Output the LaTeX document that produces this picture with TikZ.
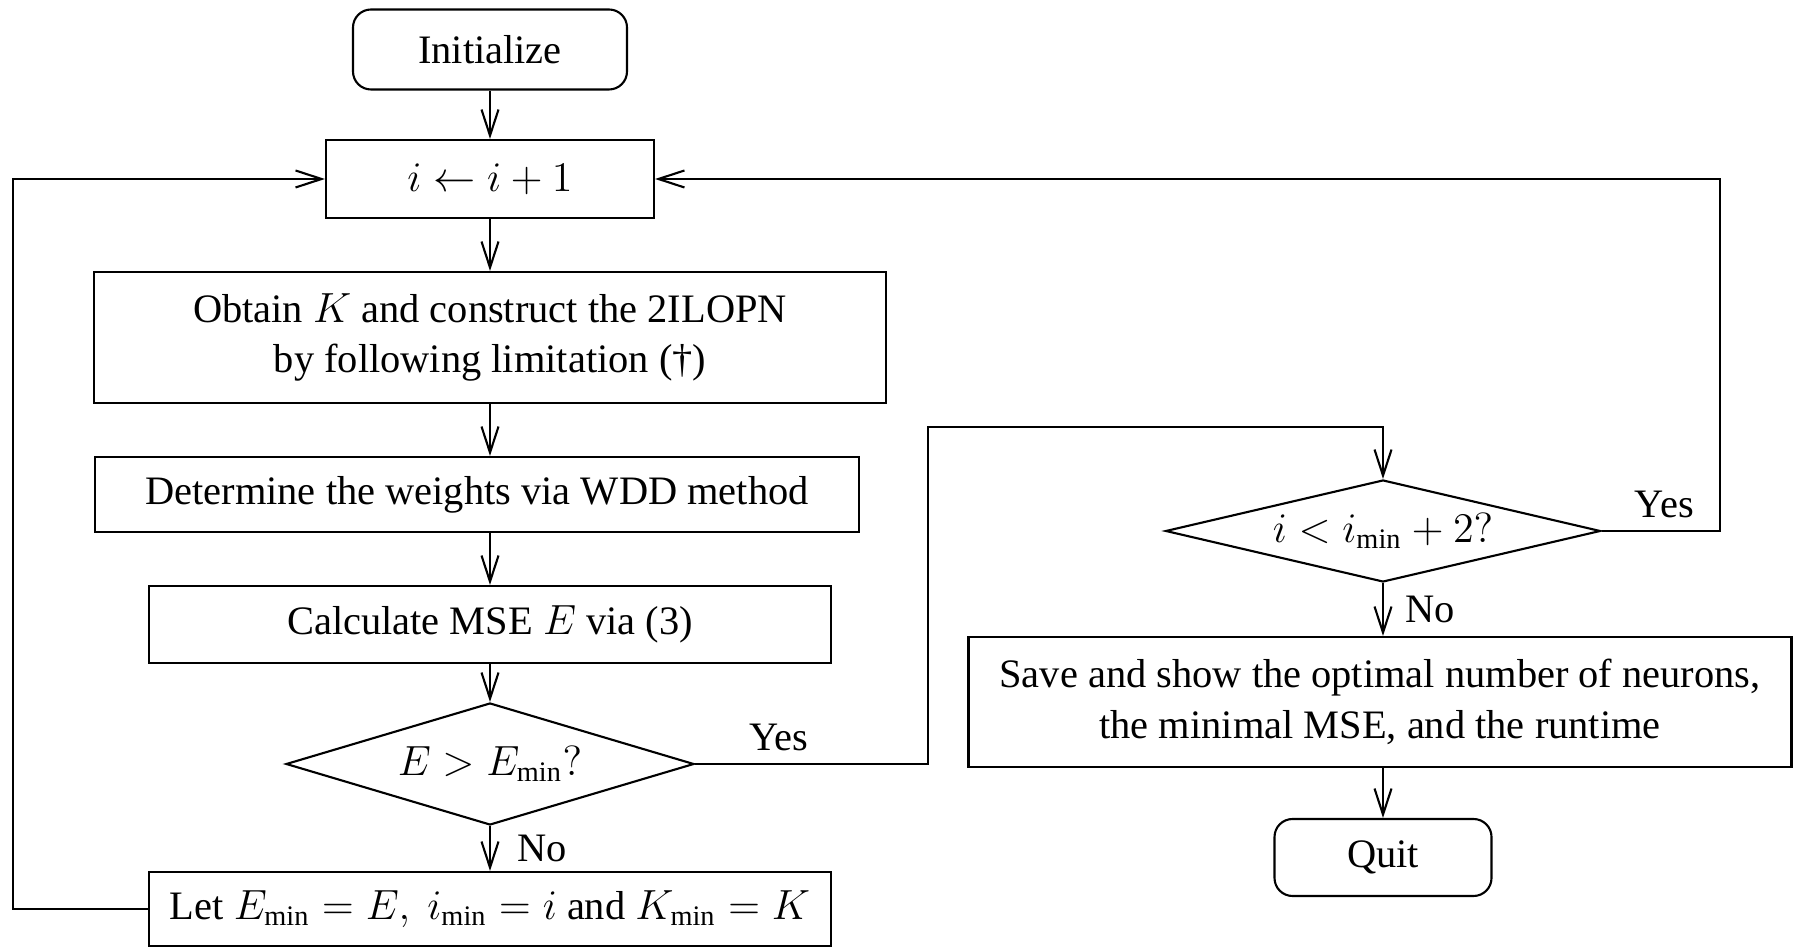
\documentclass[tikz,border=0pt]{standalone}
\usepackage{amsmath}
\usepackage{amssymb}
\usepackage{fontspec}
\setmainfont{Liberation Serif}
\usepackage{tikz}
\usetikzlibrary{arrows.meta,shapes,positioning}
\tikzstyle{arrow} = [line width=0.6pt,-{Straight Barb[length=0.26cm,width=0.17cm]}]
\tikzstyle{process} = [rectangle, draw, line width=0.6pt, align=center, inner sep=0pt, font=\fontsize{11.5}{14.4}\selectfont]
\tikzstyle{terminal} = [process, rounded corners=0.18cm]
\tikzstyle{decision} = [diamond, draw, line width=0.6pt, inner sep=0pt, font=\fontsize{11.5}{14.4}\selectfont]
\tikzstyle{branch} = [font=\fontsize{11.5}{14.4}\selectfont]

\begin{document}
\begin{tikzpicture}
    \useasboundingbox (0,0) rectangle (17.93,-9.48);
    % Left column
    \node[terminal, minimum width=2.74cm, minimum height=0.80cm] (init) at (4.90,-0.495) {Initialize};
    \node[process, minimum width=3.28cm, minimum height=0.78cm] (inc) at (4.90,-1.79) {$i \leftarrow i+1$};
    \node[process, minimum width=7.92cm, minimum height=1.31cm] (obt) at (4.90,-3.375) {Obtain $K$ and construct the 2ILOPN\\by following limitation (\dag)};
    \node[process, minimum width=7.64cm, minimum height=0.75cm] (wdd) at (4.77,-4.945) {Determine the weights via WDD method};
    \node[process, minimum width=6.82cm, minimum height=0.77cm] (mse) at (4.90,-6.245) {Calculate MSE $E$ via (3)};
    \node[decision, aspect=3.34, minimum width=4.08cm, minimum height=1.22cm] (dec1) at (4.90,-7.64) {$E > E_{\min}?$};
    \node[process, minimum width=6.82cm, minimum height=0.74cm] (upd) at (4.90,-9.09) {Let $E_{\min}=E,\ i_{\min}=i$ and $K_{\min}=K$};

    % Right column
    \node[decision, aspect=4.26, minimum width=4.35cm, minimum height=1.02cm] (dec2) at (13.83,-5.31) {$i < i_{\min}+2?$};
    \node[process, minimum width=8.23cm, minimum height=1.30cm] (save) at (13.80,-7.02) {Save and show the optimal number of neurons,\\the minimal MSE, and the runtime};
    \node[terminal, minimum width=2.17cm, minimum height=0.77cm] (quit) at (13.83,-8.575) {Quit};

    % Bends
    \coordinate (lft) at (0.126,0);
    \coordinate (jmp) at (9.28,-4.27);
    \coordinate (rgt) at (17.20,0);

    % Arrows
    \draw[arrow] (init) -- (inc);
    \draw[arrow] (inc) -- (obt);
    \draw[arrow] (obt.south) -- (obt.south |- wdd.north);
    \draw[arrow] (mse.north |- wdd.south) -- (mse);
    \draw[arrow] (mse) -- (dec1);
    \draw[arrow] (dec1) -- node[branch, right=0.15cm] {No} (upd);
    \draw[arrow] (upd.west) -- (upd.west -| lft) |- (inc.west);
    \draw[arrow] (dec1.east) -- node[branch, pos=0.36, above] {Yes} (dec1.east -| jmp) -- (jmp) -| (dec2.north);
    \draw[arrow] (dec2.east) -- node[branch, pos=0.53, above] {Yes} (dec2.east -| rgt) |- (inc.east);
    \draw[arrow] (dec2.south) -- node[branch, right=0.1cm] {No} (dec2.south |- save.north);
    \draw[arrow] (quit.north |- save.south) -- (quit);
\end{tikzpicture}
\end{document}
